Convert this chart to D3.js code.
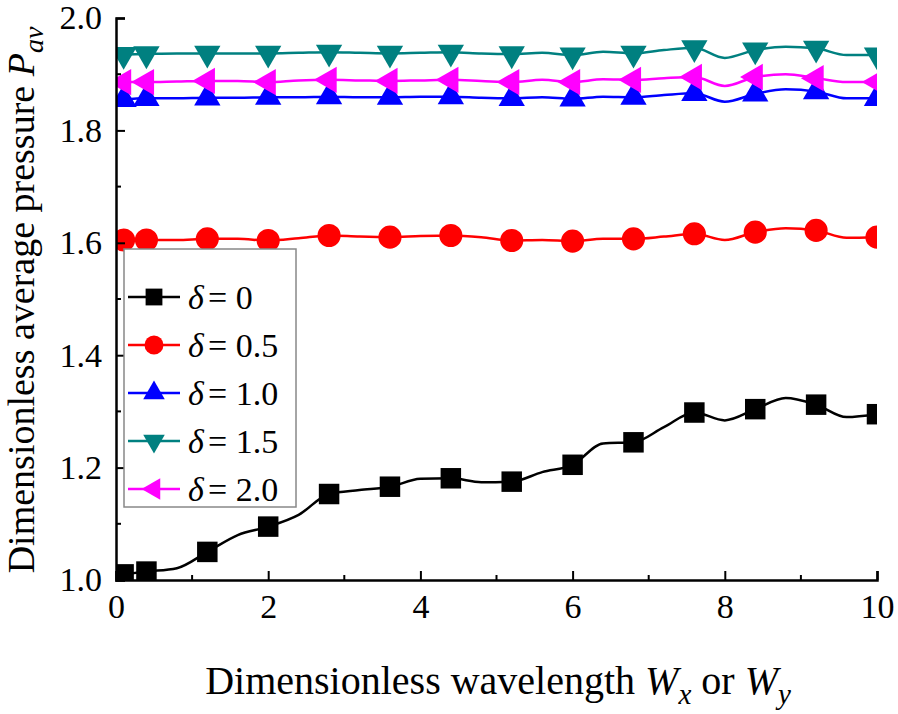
<!DOCTYPE html>
<html><head><meta charset="utf-8">
<script src="https://cdn.jsdelivr.net/npm/d3@7"></script>
</head><body style="margin:0">
<svg id="c" width="898" height="714" font-family="Liberation Serif"></svg>
<script>
const xValues = [0.1,0.4,0.8,1.2,1.6,2.0,2.4,2.8,3.2,3.6,4.0,4.4,4.8,5.2,5.6,6.0,6.4,6.8,7.2,7.6,8.0,8.4,8.8,9.2,9.6,10.0];
const markerX = [0.1,0.4,1.2,2.0,2.8,3.6,4.4,5.2,6.0,6.8,7.6,8.4,9.2,10.0];
const delta0  = [1.010,1.015,1.021,1.050,1.080,1.095,1.116,1.153,1.160,1.166,1.180,1.181,1.174,1.175,1.192,1.205,1.243,1.245,1.272,1.298,1.284,1.304,1.324,1.312,1.290,1.295];
const delta05 = [1.605,1.605,1.605,1.607,1.607,1.604,1.608,1.613,1.611,1.610,1.612,1.613,1.610,1.604,1.605,1.603,1.607,1.607,1.611,1.616,1.605,1.619,1.626,1.622,1.609,1.610];
const delta10 = [1.855,1.857,1.857,1.858,1.858,1.859,1.859,1.860,1.859,1.859,1.860,1.860,1.858,1.857,1.859,1.856,1.860,1.859,1.863,1.866,1.851,1.865,1.873,1.869,1.857,1.857];
const delta15 = [1.935,1.936,1.937,1.937,1.937,1.937,1.938,1.939,1.938,1.937,1.938,1.939,1.937,1.936,1.938,1.934,1.940,1.937,1.943,1.947,1.929,1.943,1.949,1.946,1.934,1.934];
const delta20 = [1.886,1.886,1.887,1.888,1.888,1.886,1.889,1.890,1.889,1.888,1.889,1.890,1.888,1.886,1.890,1.886,1.891,1.890,1.893,1.895,1.879,1.895,1.900,1.893,1.886,1.886];
const seriesLabels = ["0","0.5","1.0","1.5","2.0"];
const xTicks = [0,2,4,6,8,10];
const yTicks = [1.0,1.2,1.4,1.6,1.8,2.0];

const series = [
  {label:seriesLabels[0], values:delta0,  color:"#000000", shape:"square"},
  {label:seriesLabels[1], values:delta05, color:"#ff0000", shape:"circle"},
  {label:seriesLabels[2], values:delta10, color:"#0000ff", shape:"up"},
  {label:seriesLabels[3], values:delta15, color:"#008080", shape:"down"},
  {label:seriesLabels[4], values:delta20, color:"#ff00ff", shape:"left"}
];

const FONT = "Liberation Serif";
const L=116, R=877, T=18, B=580;
const x = d3.scaleLinear().domain([0,10]).range([L,R]);
const y = d3.scaleLinear().domain([1.0,2.0]).range([B,T]);
const svg = d3.select("#c");

svg.append("defs").append("clipPath").attr("id","clip")
  .append("rect").attr("x",L).attr("y",T).attr("width",R-L).attr("height",B-T);

function symPath(shape, scale){
  const s = scale||1;
  if(shape==="square") return {p:d3.symbol(d3.symbolSquare, 420*s*s)(), r:0};
  if(shape==="circle") return {p:d3.symbol(d3.symbolCircle, 420*s*s)(), r:0};
  const tri = d3.symbol(d3.symbolTriangle, 300*s*s)();
  if(shape==="up") return {p:tri, r:0};
  if(shape==="down") return {p:tri, r:180};
  return {p:tri, r:-90};
}

const line = d3.line().x((d,i)=>x(xValues[i])).y(d=>y(d)).curve(d3.curveMonotoneX);
const plot = svg.append("g").attr("clip-path","url(#clip)");
series.forEach(s=>{
  plot.append("path").attr("d", line(s.values)).attr("fill","none")
    .attr("stroke", s.color).attr("stroke-width", 2.5);
  const sp = symPath(s.shape, 1);
  const pts = xValues.map((xv,i)=>({xv, v:s.values[i]})).filter(d=>markerX.some(m=>Math.abs(m-d.xv)<1e-9));
  plot.selectAll(null).data(pts).enter().append("path")
    .attr("d", sp.p).attr("fill", s.color)
    .attr("transform", d=>`translate(${x(d.xv)},${y(d.v)}) rotate(${sp.r})`);
});

// axes
const xAxis = d3.axisBottom(x).tickValues(xTicks).tickSize(-9).tickPadding(14).tickFormat(d3.format("d"));
const gx = svg.append("g").attr("transform",`translate(0,${B})`).call(xAxis);
const yAxis = d3.axisLeft(y).tickValues(yTicks).tickSize(-9).tickPadding(14).tickFormat(d3.format(".1f"));
const gy = svg.append("g").attr("transform",`translate(${L},0)`).call(yAxis);
[gx,gy].forEach(g=>{
  g.attr("font-family", FONT).attr("font-size", 34);
  g.select(".domain").attr("stroke","#000").attr("stroke-width",2.5);
  g.selectAll(".tick line").attr("stroke","#000").attr("stroke-width",2);
  g.selectAll(".tick text").attr("font-family", FONT).attr("font-size", 34).attr("fill","#000");
});
gx.selectAll(".tick text").attr("dy","0.71em");
// minor ticks
const xMinor = d3.range(1,10,2);
svg.append("g").selectAll("line").data(xMinor).enter().append("line")
  .attr("x1",d=>x(d)).attr("x2",d=>x(d)).attr("y1",B).attr("y2",B-5).attr("stroke","#000").attr("stroke-width",2);
const yMinor = [1.1,1.3,1.5,1.7,1.9];
svg.append("g").selectAll("line").data(yMinor).enter().append("line")
  .attr("y1",d=>y(d)).attr("y2",d=>y(d)).attr("x1",L).attr("x2",L+5).attr("stroke","#000").attr("stroke-width",2);

// titles
const xt = svg.append("text").attr("x",498).attr("y",694).attr("text-anchor","middle").attr("font-family",FONT).attr("font-size",40);
xt.append("tspan").text("Dimensionless wavelength ");
xt.append("tspan").attr("font-style","italic").text("W");
xt.append("tspan").attr("font-style","italic").attr("dy",10).attr("font-size",29).text("x");
xt.append("tspan").attr("dy",-10).text(" or ");
xt.append("tspan").attr("font-style","italic").text("W");
xt.append("tspan").attr("font-style","italic").attr("dy",10).attr("font-size",29).text("y");

const yt = svg.append("text").attr("transform","translate(34,300) rotate(-90)").attr("text-anchor","middle").attr("font-family",FONT).attr("font-size",38);
yt.append("tspan").text("Dimensionless average pressure ");
yt.append("tspan").attr("font-style","italic").text("P");
yt.append("tspan").attr("font-style","italic").attr("dy",9).attr("font-size",28).text("av");

// legend
const lg = svg.append("g");
lg.append("rect").attr("x",124).attr("y",249).attr("width",172).attr("height",258)
  .attr("fill","#fff").attr("stroke","#888").attr("stroke-width",1.5);
const rowY = d3.scaleLinear().domain([0,4]).range([297,489]);
series.forEach((s,i)=>{
  const yy = rowY(i);
  lg.append("line").attr("x1",128).attr("x2",180).attr("y1",yy).attr("y2",yy).attr("stroke",s.color).attr("stroke-width",2.5);
  const sp = symPath(s.shape, 0.82);
  lg.append("path").attr("d",sp.p).attr("fill",s.color).attr("transform",`translate(154,${yy}) rotate(${sp.r})`);
  lg.append("text").attr("x",188).attr("y",yy+12).attr("font-family",FONT).attr("font-size",34)
    .attr("font-style","italic").text("δ");
  lg.append("text").attr("x",208).attr("y",yy+12).attr("font-family",FONT).attr("font-size",34)
    .text("= " + s.label);
});
</script></body></html>
